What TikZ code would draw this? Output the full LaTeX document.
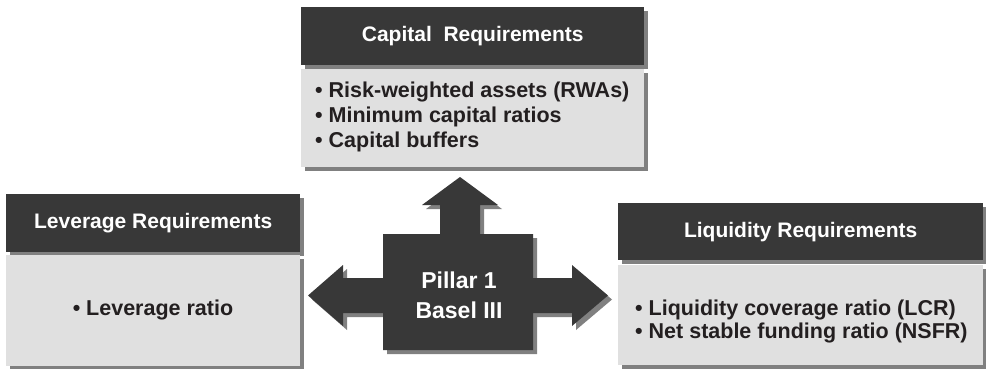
\documentclass[tikz,border=0pt]{standalone}
\usepackage{fontspec}
\setmainfont{Liberation Sans}
\usetikzlibrary{shadows}
\definecolor{hdrfill}{HTML}{383838}
\definecolor{bodyfill}{HTML}{E0E0E0}
\definecolor{shadowgray}{HTML}{808080}
\definecolor{bodytext}{HTML}{231F20}
\tikzset{
  x=1pt, y=-1pt,
  shade4/.style={general shadow={shadow xshift=4pt, shadow yshift=-4pt, fill=shadowgray}},
  hdrbox/.style={shade4, fill=hdrfill, draw=none, anchor=north west, inner sep=0pt,
    text=white, font=\fontsize{21}{23}\selectfont\bfseries},
  bodybox/.style={shade4, fill=bodyfill, draw=none, anchor=north west, inner sep=0pt},
  bodytxt/.style={text=bodytext, font=\fontsize{21.5}{25}\selectfont\bfseries, align=left, inner sep=0pt},
  pillarshape/.style={shade4, fill=hdrfill, draw=none},
}
\begin{document}
\begin{tikzpicture}
\useasboundingbox (0,0) rectangle (986,369);
% Capital
\node[hdrbox, minimum width=343pt, minimum height=58pt] (caph) at (301,7) {Capital\ \ Requirements};
\node[bodybox, minimum width=343pt, minimum height=98pt] (capb) at (301,69) {};
\node[bodytxt, anchor=west] (capt) at (315,117) {• Risk-weighted assets (RWAs)\\• Minimum capital ratios\\• Capital buffers};
% Leverage
\node[hdrbox, minimum width=294pt, minimum height=58pt] (levh) at (6,194) {Leverage Requirements};
\node[bodybox, minimum width=294pt, minimum height=111pt] (levb) at (6,255) {};
\node[bodytxt] (levt) at (153,310) {• Leverage ratio};
% Liquidity
\node[hdrbox, minimum width=365pt, minimum height=57pt] (liqh) at (618,203) {Liquidity Requirements};
\node[bodybox, minimum width=365pt, minimum height=100pt] (liqb) at (618,265) {};
\node[bodytxt, anchor=west, font=\fontsize{21.5}{23}\selectfont\bfseries] (liqt) at (635,321.5) {• Liquidity coverage ratio (LCR)\\• Net stable funding ratio (NSFR)};
% Central pillar with arrows
\coordinate (upTip) at (460,177);
\coordinate (leftTip) at (308,295.5);
\coordinate (rightTip) at (608,295.5);
\path[pillarshape] (383,234) -- (440,234) -- (440,205) -- (422,205) -- (upTip) -- (498,205) -- (480,205) -- (480,234)
  -- (533,234) -- (533,278) -- (572,278) -- (572,265) -- (rightTip) -- (572,326) -- (572,313) -- (533,313)
  -- (533,350) -- (383,350) -- (383,313) -- (343,313) -- (343,326) -- (leftTip) -- (343,265) -- (343,278)
  -- (383,278) -- cycle;
\node[text=white, font=\fontsize{23}{30}\selectfont\bfseries, align=center, inner sep=0pt] (pillar) at (459,295) {Pillar 1\\Basel III};
\end{tikzpicture}
\end{document}
